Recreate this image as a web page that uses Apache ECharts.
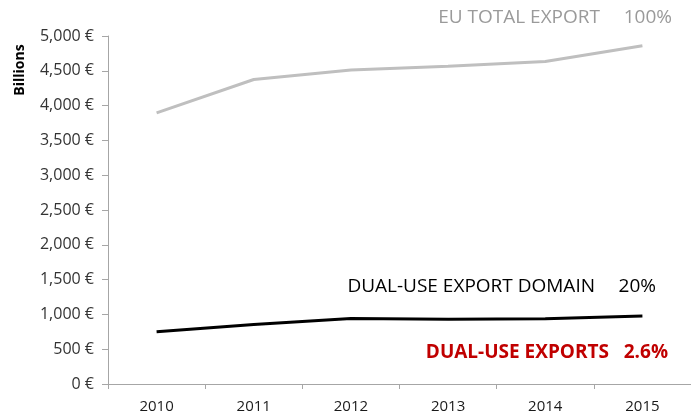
<!DOCTYPE html>
<html><head><meta charset="utf-8">
<script src="https://cdn.jsdelivr.net/npm/echarts@6/dist/echarts.min.js"></script>
<style>html,body{margin:0;padding:0;background:#fff}#c{width:691px;height:419px}</style>
</head><body><div id="c"></div>
<script>
const years = ['2010','2011','2012','2013','2014','2015'];
const euTotalExport = [3895, 4375, 4510, 4565, 4635, 4860];
const dualUseDomain = [750, 855, 942, 930, 938, 977];
const yTicks = {min: 0, max: 5000, interval: 500};
const labelTotal = ['EU TOTAL EXPORT', '100%'];
const labelDomain = ['DUAL-USE EXPORT DOMAIN', '20%'];
const labelDualUse = ['DUAL-USE EXPORTS', '2.6%'];

const font = 'Open Sans, Noto Sans, sans-serif';
const chart = echarts.init(document.getElementById('c'));
chart.setOption({
  animation: false,
  backgroundColor: '#fff',
  grid: {left: 108, right: -6, top: 36, bottom: 35, containLabel: false},
  xAxis: {
    type: 'category', data: years, boundaryGap: true,
    axisLine: {lineStyle: {color: '#a6a6a6', width: 1}},
    axisTick: {show: true, length: 5, lineStyle: {color: '#a6a6a6'}},
    axisLabel: {color: '#1a1a1a', fontSize: 15, fontFamily: font, margin: 15}
  },
  yAxis: {
    type: 'value', min: yTicks.min, max: yTicks.max, interval: yTicks.interval,
    axisLine: {show: true, lineStyle: {color: '#a6a6a6', width: 1}},
    axisTick: {show: true, length: 6, lineStyle: {color: '#a6a6a6'}},
    splitLine: {show: false},
    axisLabel: {color: '#333', fontSize: 16, fontFamily: font, margin: 14,
      formatter: v => v.toLocaleString('en-US') + '\u00a0€'}
  },
  series: [
    {type: 'line', data: euTotalExport, symbol: 'none', lineStyle: {color: '#bfbfbf', width: 3}},
    {type: 'line', data: dualUseDomain, symbol: 'none', lineStyle: {color: '#000', width: 3}}
  ],
  graphic: [
    {type: 'text', x: 20, y: 70, rotation: Math.PI / 2,
      style: {text: 'Billions', fontSize: 14, fontWeight: 'bold', fontFamily: font, fill: '#000', align: 'center', verticalAlign: 'middle'}},
    {type: 'text', x: 600, y: 18, style: {text: labelTotal[0], fontSize: 19, fontFamily: font, fill: '#9a9a9a', align: 'right', verticalAlign: 'middle'}},
    {type: 'text', x: 672, y: 18, style: {text: labelTotal[1], fontSize: 19, fontFamily: font, fill: '#9a9a9a', align: 'right', verticalAlign: 'middle'}},
    {type: 'text', x: 595, y: 287, style: {text: labelDomain[0], fontSize: 19, fontFamily: font, fill: '#000', align: 'right', verticalAlign: 'middle'}},
    {type: 'text', x: 656, y: 287, style: {text: labelDomain[1], fontSize: 19, fontFamily: font, fill: '#000', align: 'right', verticalAlign: 'middle'}},
    {type: 'text', x: 609, y: 353, style: {text: labelDualUse[0], fontSize: 19, fontWeight: 'bold', fontFamily: font, fill: '#c00000', align: 'right', verticalAlign: 'middle'}},
    {type: 'text', x: 668, y: 353, style: {text: labelDualUse[1], fontSize: 19, fontWeight: 'bold', fontFamily: font, fill: '#c00000', align: 'right', verticalAlign: 'middle'}}
  ]
});
</script></body></html>
